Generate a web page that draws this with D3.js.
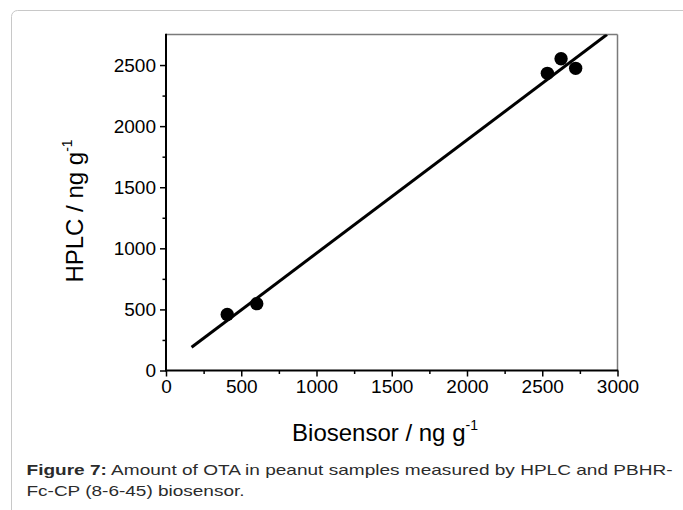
<!DOCTYPE html>
<html><head><meta charset="utf-8">
<script src="https://cdn.jsdelivr.net/npm/d3@7"></script>
<style>
html,body{margin:0;padding:0;background:#fff;}
svg{display:block;font-family:"Liberation Sans",Arial,sans-serif;}
</style></head>
<body>
<svg id="chart" width="683" height="510"></svg>
<script>
// ---- data ----
const biosensor = [407, 603, 2534, 2625, 2722];
const hplc      = [459, 547, 2432, 2552, 2473];
const fitX = [170, 2930];
const fitY = [190, 2750];
const xTicks = [0, 500, 1000, 1500, 2000, 2500, 3000];
const xMinor = [250, 750, 1250, 1750, 2250, 2750];
const yTicks = [0, 500, 1000, 1500, 2000, 2500];
const yMinor = [250, 750, 1250, 1750, 2250];
const xTitle = "Biosensor / ng g";
const yTitle = "HPLC / ng g";
const unitSup = "-1";
const captionBold = "Figure 7:";
const captionLine1 = " Amount of OTA in peanut samples measured by HPLC and PBHR-";
const captionLine2 = "Fc-CP (8-6-45) biosensor.";

const svg = d3.select("#chart");

// frame
svg.append("rect").attr("x",11.5).attr("y",10.5).attr("width",720).attr("height",560)
  .attr("rx",6).attr("fill","none").attr("stroke","#c8c8c8").attr("stroke-width",1);

const L=166, R=617.5, T=34.5, B=370.5;
const x = d3.scaleLinear().domain([0,3000]).range([L,R]);
const y = d3.scaleLinear().domain([0,2750]).range([B,T]);

// top & right frame lines
svg.append("line").attr("x1",L).attr("x2",R).attr("y1",T).attr("y2",T)
  .attr("stroke","#7a7a7a").attr("stroke-width",1.5);
svg.append("line").attr("x1",R).attr("x2",R).attr("y1",T).attr("y2",B)
  .attr("stroke","#7a7a7a").attr("stroke-width",1.5);

// axes
function styleAxis(g){
  g.select(".domain").remove();
  g.selectAll(".tick line").attr("stroke","#000").attr("stroke-width",1.5);
  g.selectAll(".tick text").attr("fill","#000").attr("font-size","19px")
    .attr("font-family","'Liberation Sans',Arial,sans-serif");
}
const gx = svg.append("g").attr("transform",`translate(0,${B})`)
  .call(d3.axisBottom(x).tickValues(xTicks).tickSize(6).tickPadding(3).tickFormat(d3.format("d")));
styleAxis(gx);
const gxm = svg.append("g").attr("transform",`translate(0,${B})`)
  .call(d3.axisBottom(x).tickValues(xMinor).tickSize(3.5).tickFormat(""));
styleAxis(gxm);
const gy = svg.append("g").attr("transform",`translate(${L},0)`)
  .call(d3.axisLeft(y).tickValues(yTicks).tickSize(6).tickPadding(4).tickFormat(d3.format("d")));
styleAxis(gy);
const gym = svg.append("g").attr("transform",`translate(${L},0)`)
  .call(d3.axisLeft(y).tickValues(yMinor).tickSize(3.5).tickFormat(""));
styleAxis(gym);

// axis lines
svg.append("line").attr("x1",L).attr("x2",R+0.75).attr("y1",B).attr("y2",B)
  .attr("stroke","#000").attr("stroke-width",2);
svg.append("line").attr("x1",L).attr("x2",L).attr("y1",T-0.75).attr("y2",B+1)
  .attr("stroke","#000").attr("stroke-width",2);

// clip
svg.append("clipPath").attr("id","plotclip").append("rect")
  .attr("x",L).attr("y",T).attr("width",R-L).attr("height",B-T);

// fit line
svg.append("path").attr("clip-path","url(#plotclip)")
  .datum(fitX.map((d,i)=>[d,fitY[i]]))
  .attr("d", d3.line().x(d=>x(d[0])).y(d=>y(d[1])))
  .attr("fill","none").attr("stroke","#000").attr("stroke-width",3);

// points
svg.append("g").selectAll("circle").data(biosensor.map((d,i)=>[d,hplc[i]]))
  .join("circle").attr("cx",d=>x(d[0])).attr("cy",d=>y(d[1])).attr("r",6.7).attr("fill","#000");

// axis titles
const xt = svg.append("text").attr("x",385).attr("y",441).attr("text-anchor","middle")
  .attr("font-size","24px").attr("fill","#000");
xt.append("tspan").text(xTitle);
xt.append("tspan").attr("dy",-11).attr("font-size","14px").text(unitSup);

const yt = svg.append("text").attr("transform","translate(83,211) rotate(-90)")
  .attr("text-anchor","middle").attr("font-size","24px").attr("fill","#000");
yt.append("tspan").text(yTitle);
yt.append("tspan").attr("dy",-11).attr("font-size","14px").text(unitSup);

// caption
const c1 = svg.append("text").attr("x",26.5).attr("y",475).attr("font-size","15px")
  .attr("fill","#2b2b2b").attr("textLength",646).attr("lengthAdjust","spacingAndGlyphs");
c1.append("tspan").attr("font-weight","bold").text(captionBold);
c1.append("tspan").text(captionLine1);
svg.append("text").attr("x",26.5).attr("y",495.5).attr("font-size","15px")
  .attr("fill","#2b2b2b").attr("textLength",218).attr("lengthAdjust","spacingAndGlyphs")
  .text(captionLine2);
</script>
</body></html>
